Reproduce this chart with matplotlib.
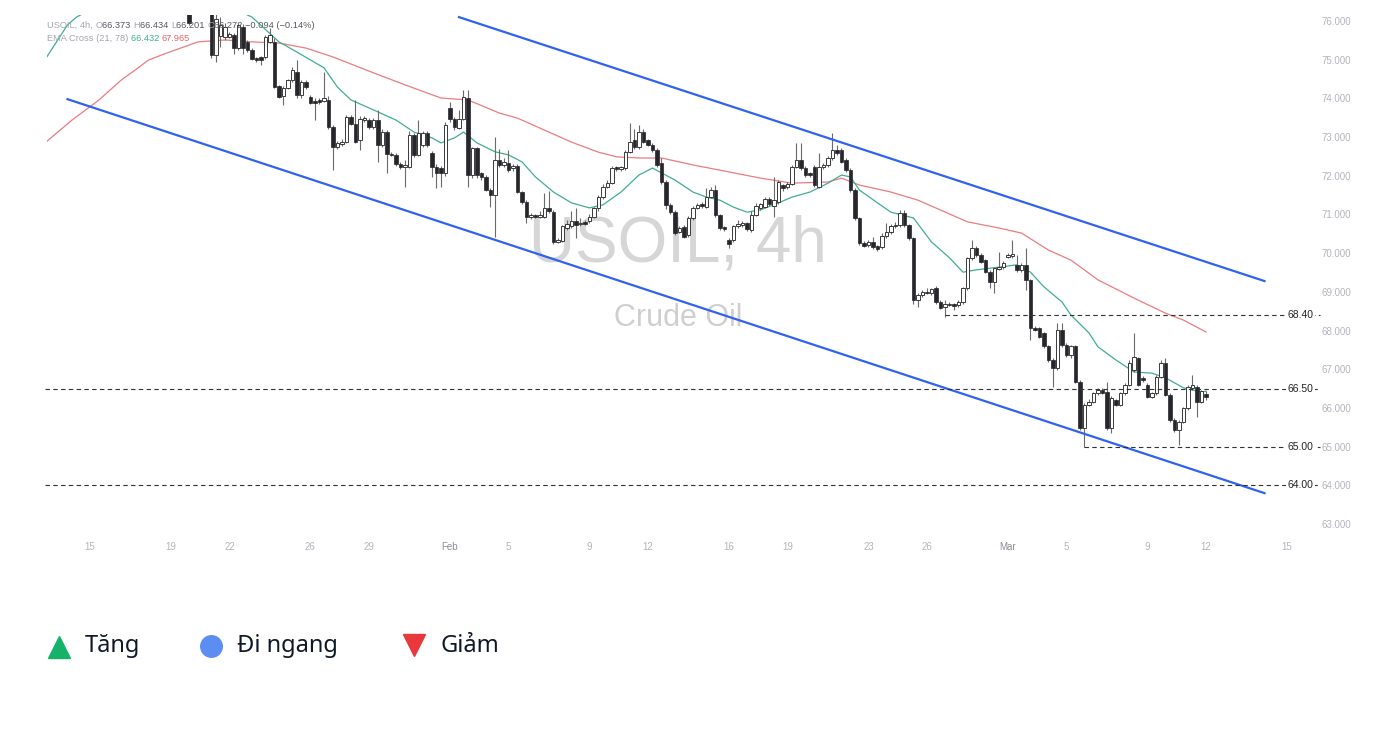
import matplotlib
matplotlib.use("Agg")
import matplotlib.pyplot as plt
import numpy as np

plt.rcParams["font.family"] = ["Liberation Sans", "DejaVu Sans"]

W, H = 1397, 737

# ---------------- data (USOIL 4h candles, bar index 22..248) ----------------
opens = [
    76.40, 76.30, 76.60, 76.50, 76.40, 76.25, 75.12, 75.60, 75.59, 75.59,
    75.63, 75.29, 75.85, 75.46, 75.25, 75.05, 75.07, 75.07, 75.46, 75.46,
    74.31, 74.06, 74.28, 74.47, 74.69, 74.08, 74.43, 74.04, 73.93, 73.97,
    73.94, 73.97, 73.26, 72.75, 72.82, 72.88, 73.52, 73.35, 72.92, 73.44,
    73.44, 73.27, 73.44, 72.79, 73.13, 72.57, 72.55, 72.30, 72.23, 72.23,
    73.05, 72.54, 72.80, 73.10, 72.60, 72.24, 72.20, 72.06, 73.74, 73.48,
    73.23, 73.48, 74.00, 72.02, 72.71, 72.06, 71.98, 71.63, 71.50, 72.41,
    72.28, 72.32, 72.19, 72.25, 71.59, 71.33, 70.94, 70.98, 70.94, 70.94,
    71.16, 71.07, 70.30, 70.32, 70.64, 70.69, 70.82, 70.75, 70.80, 70.82,
    70.94, 71.16, 71.45, 71.72, 71.82, 72.22, 72.17, 72.20, 72.62, 72.92,
    72.75, 73.14, 72.92, 72.80, 72.67, 72.32, 71.85, 71.25, 71.07, 70.56,
    70.67, 70.47, 70.90, 71.18, 71.27, 71.20, 71.46, 71.63, 70.98, 70.67,
    70.34, 70.34, 70.69, 70.73, 70.77, 70.60, 70.99, 71.18, 71.20, 71.39,
    71.22, 71.33, 71.76, 71.70, 71.80, 72.23, 72.41, 72.19, 72.06, 72.23,
    71.72, 72.23, 72.28, 72.45, 72.67, 72.67, 72.41, 72.15, 71.63, 70.90,
    70.27, 70.20, 70.30, 70.18, 70.15, 70.44, 70.56, 70.69, 70.73, 71.03,
    70.73, 70.38, 68.79, 68.92, 69.00, 68.96, 69.10, 68.75, 68.62, 68.70,
    68.69, 68.66, 68.75, 69.09, 69.87, 70.13, 69.95, 69.82, 69.52, 69.26,
    69.60, 69.65, 69.91, 69.93, 69.70, 69.57, 69.70, 69.30, 68.06, 68.06,
    67.93, 67.59, 67.24, 67.03, 68.02, 67.63, 67.37, 67.59, 66.68, 65.48,
    66.08, 66.16, 66.38, 66.47, 66.42, 65.48, 66.20, 66.08, 66.38, 66.60,
    66.98, 67.28, 66.77, 66.60, 66.29, 66.38, 66.81, 67.16, 66.34, 65.69,
    65.43, 65.65, 65.99, 66.51, 66.55, 66.16, 66.373,
]
highs = [
    76.60, 76.70, 76.90, 76.80, 76.60, 76.40, 76.30, 76.10, 75.95, 75.72,
    75.70, 75.95, 75.92, 75.52, 75.30, 75.08, 75.10, 75.65, 75.81, 75.55,
    74.35, 74.32, 74.50, 74.80, 74.99, 74.48, 74.47, 74.10, 74.00, 74.02,
    74.69, 74.05, 73.30, 72.90, 72.95, 73.58, 73.58, 73.95, 73.55, 73.55,
    73.50, 73.50, 73.70, 73.20, 73.18, 72.62, 72.58, 72.35, 72.40, 73.15,
    73.10, 73.44, 73.15, 73.15, 72.65, 72.30, 72.25, 73.40, 73.90, 73.52,
    73.70, 74.22, 74.22, 72.75, 72.75, 72.10, 72.02, 71.68, 73.01, 72.68,
    72.45, 72.67, 72.30, 72.30, 71.62, 71.38, 71.05, 71.02, 71.10, 71.55,
    71.60, 71.12, 70.38, 70.72, 70.85, 71.10, 71.16, 70.90, 70.85, 71.00,
    71.20, 71.50, 71.78, 71.88, 72.25, 72.26, 72.26, 72.66, 73.36, 73.20,
    73.30, 73.20, 72.96, 72.84, 72.72, 72.45, 71.90, 71.30, 71.12, 70.70,
    70.72, 70.95, 71.22, 71.30, 71.32, 71.68, 71.72, 71.76, 71.02, 70.70,
    70.38, 70.73, 70.86, 70.82, 70.80, 71.10, 71.30, 71.30, 71.45, 71.45,
    71.98, 71.90, 71.80, 71.84, 72.28, 72.84, 72.84, 72.25, 72.10, 72.28,
    72.58, 72.32, 72.52, 73.10, 72.80, 72.72, 72.45, 72.20, 71.68, 70.94,
    70.32, 70.34, 70.42, 70.22, 70.51, 70.77, 70.75, 70.80, 71.12, 71.12,
    70.76, 70.42, 68.97, 69.05, 69.09, 69.10, 69.14, 68.78, 68.78, 68.74,
    68.72, 68.80, 69.12, 69.90, 70.34, 70.18, 70.00, 69.86, 69.56, 69.65,
    70.04, 69.80, 70.00, 70.34, 69.95, 69.74, 70.13, 69.34, 68.12, 68.10,
    67.97, 67.63, 67.28, 68.20, 68.20, 67.68, 67.63, 67.63, 66.72, 66.12,
    66.22, 66.42, 66.52, 66.52, 66.68, 66.30, 66.24, 66.42, 66.64, 67.24,
    67.93, 67.32, 66.82, 66.65, 66.42, 66.85, 67.24, 67.30, 66.38, 65.73,
    65.70, 66.03, 66.59, 66.85, 66.60, 66.47, 66.434,
]
lows = [
    75.90, 76.25, 76.40, 76.30, 76.20, 75.05, 74.94, 75.33, 75.50, 75.55,
    75.16, 75.25, 75.16, 75.20, 75.00, 74.95, 74.86, 75.02, 75.42, 74.28,
    74.00, 73.82, 74.24, 74.42, 74.00, 74.02, 74.25, 73.85, 73.44, 73.86,
    73.90, 73.22, 72.16, 72.70, 72.78, 72.85, 73.30, 72.85, 72.66, 73.40,
    73.20, 73.22, 72.36, 72.75, 72.06, 72.50, 72.25, 72.18, 71.71, 72.20,
    72.48, 72.50, 72.75, 72.75, 71.98, 71.68, 71.72, 72.00, 73.40, 73.18,
    73.20, 73.45, 71.72, 71.95, 71.95, 71.90, 71.60, 71.20, 70.43, 72.22,
    72.22, 72.10, 72.12, 71.55, 71.28, 70.78, 70.88, 70.90, 70.90, 70.90,
    71.05, 70.25, 70.26, 70.28, 70.60, 70.65, 70.38, 70.70, 70.72, 70.78,
    70.90, 71.10, 71.40, 71.68, 71.78, 72.12, 72.12, 72.15, 72.58, 72.70,
    72.70, 72.84, 72.76, 72.62, 72.24, 71.80, 71.15, 71.02, 70.47, 70.52,
    70.38, 70.42, 70.86, 71.14, 71.18, 71.16, 71.42, 70.94, 70.60, 70.58,
    70.13, 70.30, 70.65, 70.68, 70.58, 70.56, 70.95, 71.12, 71.16, 71.22,
    70.94, 71.28, 71.62, 71.66, 71.76, 72.20, 72.15, 71.98, 71.98, 71.72,
    71.68, 72.18, 72.24, 72.42, 72.55, 72.32, 72.10, 71.58, 70.86, 70.22,
    70.15, 70.16, 70.12, 70.05, 70.10, 70.40, 70.50, 70.64, 70.68, 70.68,
    70.35, 68.70, 68.62, 68.88, 68.94, 68.92, 68.70, 68.55, 68.36, 68.64,
    68.53, 68.62, 68.70, 69.05, 69.82, 69.90, 69.74, 69.48, 69.09, 68.96,
    69.56, 69.60, 69.88, 69.88, 69.52, 69.52, 69.05, 67.75, 67.98, 67.80,
    67.55, 67.20, 66.55, 66.98, 67.58, 67.33, 67.30, 66.64, 65.44, 65.00,
    66.04, 66.12, 66.34, 66.36, 65.44, 65.35, 66.04, 66.04, 66.34, 66.56,
    66.94, 66.56, 66.68, 66.25, 66.25, 66.34, 66.77, 66.30, 65.65, 65.39,
    65.04, 65.61, 65.95, 66.47, 65.78, 66.12, 66.201,
]
closes = [
    75.95, 76.60, 76.50, 76.40, 76.30, 75.12, 76.05, 75.90, 75.85, 75.66,
    75.29, 75.89, 75.30, 75.25, 75.03, 74.99, 74.99, 75.59, 75.63, 74.30,
    74.04, 74.28, 74.47, 74.73, 74.08, 74.43, 74.30, 73.88, 73.90, 73.91,
    74.00, 73.26, 72.75, 72.84, 72.88, 73.52, 73.35, 72.88, 73.48, 73.50,
    73.27, 73.44, 72.79, 73.13, 72.57, 72.53, 72.30, 72.23, 72.25, 73.05,
    72.53, 73.10, 73.10, 72.80, 72.24, 72.06, 72.06, 73.31, 73.48, 73.27,
    73.48, 74.04, 72.02, 72.71, 72.02, 71.98, 71.63, 71.50, 72.41, 72.28,
    72.35, 72.15, 72.25, 71.59, 71.33, 70.94, 70.98, 70.94, 70.98, 71.16,
    71.10, 70.30, 70.34, 70.69, 70.75, 70.82, 70.73, 70.78, 70.76, 70.94,
    71.16, 71.45, 71.72, 71.82, 72.20, 72.17, 72.22, 72.62, 72.88, 72.75,
    73.14, 72.88, 72.80, 72.67, 72.28, 71.85, 71.25, 71.07, 70.51, 70.64,
    70.43, 70.90, 71.18, 71.25, 71.22, 71.46, 71.63, 70.98, 70.64, 70.62,
    70.25, 70.69, 70.75, 70.77, 70.62, 70.99, 71.22, 71.26, 71.39, 71.26,
    71.37, 71.85, 71.68, 71.80, 72.23, 72.40, 72.19, 72.02, 72.02, 71.76,
    72.23, 72.28, 72.45, 72.67, 72.60, 72.36, 72.15, 71.63, 70.90, 70.26,
    70.19, 70.30, 70.17, 70.12, 70.44, 70.56, 70.69, 70.73, 71.03, 70.73,
    70.38, 68.79, 68.92, 69.00, 68.97, 69.07, 68.75, 68.58, 68.70, 68.67,
    68.63, 68.75, 69.09, 69.87, 70.13, 69.95, 69.78, 69.52, 69.26, 69.61,
    69.65, 69.74, 69.95, 69.95, 69.57, 69.70, 69.30, 68.06, 68.02, 67.84,
    67.59, 67.24, 67.03, 68.02, 67.63, 67.37, 67.59, 66.68, 65.48, 66.08,
    66.16, 66.38, 66.47, 66.40, 65.48, 66.25, 66.08, 66.38, 66.60, 67.16,
    67.33, 66.60, 66.72, 66.29, 66.38, 66.81, 67.16, 66.34, 65.69, 65.43,
    65.65, 65.99, 66.55, 66.60, 66.16, 66.43, 66.272,
]
first_bar = 22

# EMA 21 / EMA 78 (bar index, price)
ema21_x = [-10, -5, -3, 5, 15, 25, 36, 42, 44, 52, 55, 58, 64, 68, 72, 76, 78, 81, 83, 86,
           90, 93, 96, 99, 103, 107, 111, 114, 118, 122, 125, 130, 134, 137, 140, 143, 146,
           149, 153, 156, 160, 164, 167, 169, 171, 175, 178, 183, 187, 191, 194, 197, 202,
           206, 209, 212, 216, 218, 222, 224, 228, 232, 236, 239, 243, 247, 248]
ema21_y = [75.00, 75.90, 76.10, 76.60, 76.90, 76.70, 76.10, 75.46, 75.33, 74.79, 74.29, 73.96,
           73.65, 73.44, 73.13, 72.98, 72.85, 72.98, 73.13, 72.85, 72.62, 72.54, 72.36, 71.97,
           71.58, 71.30, 71.17, 71.25, 71.58, 72.02, 72.20, 71.89, 71.58, 71.45, 71.37, 71.19,
           71.06, 71.12, 71.30, 71.45, 71.58, 71.81, 72.02, 71.97, 71.63, 71.30, 71.06, 70.91,
           70.29, 69.88, 69.51, 69.57, 69.64, 69.70, 69.51, 69.13, 68.74, 68.40, 67.94, 67.58,
           67.24, 66.93, 66.90, 66.78, 66.52, 66.41, 66.432]
ema78_x = [-10, -4, 2, 7, 10, 13, 17, 24, 30, 36, 42, 48, 54, 63, 70, 78, 84, 91, 95, 101,
           107, 113, 117, 122, 127, 134, 142, 149, 156, 164, 167, 171, 178, 184, 195, 202,
           207, 213, 218, 224, 232, 239, 243, 248]
ema78_y = [72.85, 73.44, 73.96, 74.48, 74.73, 74.99, 75.17, 75.46, 75.51, 75.46, 75.43, 75.30,
           75.07, 74.66, 74.35, 74.01, 73.96, 73.62, 73.49, 73.18, 72.87, 72.61, 72.49, 72.46,
           72.46, 72.28, 72.10, 71.94, 71.81, 71.84, 71.94, 71.76, 71.58, 71.37, 70.81, 70.65,
           70.52, 70.08, 69.82, 69.31, 68.84, 68.45, 68.27, 67.965]

# trend channel
upper_x, upper_y = [82, 261], [76.10, 69.28]
lower_x, lower_y = [-5, 261], [73.98, 63.80]

# horizontal levels
level_values = [68.40, 66.50, 65.00, 64.00]
level_start = [190, -10, 221, -10]

date_ticks = [0, 18, 31, 49, 62, 80, 93, 111, 124, 142, 155, 173, 186, 204, 217, 235, 248, 266]
date_labels = ["15", "19", "22", "26", "29", "Feb", "5", "9", "12", "16", "19", "23", "26",
               "Mar", "5", "9", "12", "15"]
price_ticks = [63, 64, 65, 66, 67, 68, 69, 70, 71, 72, 73, 74, 75, 76]

legend_labels = ["Tăng", "Đi ngang", "Giảm"]

# ---------------- figure ----------------
fig = plt.figure(figsize=(W / 100, H / 100), dpi=100)
fig.patch.set_facecolor("white")
ax = fig.add_axes([47 / W, (H - 535) / H, (1290 - 47) / W, (535 - 15) / H])
ax.set_xlim(-9.556, 266.67)
ax.set_ylim(62.718, 76.155)
for s in ax.spines.values():
    s.set_visible(False)

# watermark
ax.text(0.5076, 0.5577, "USOIL, 4h", transform=ax.transAxes, ha="center", va="center",
        fontsize=46, color="#d6d6d6", zorder=0)
ax.text(0.5076, 0.417, "Crude Oil", transform=ax.transAxes, ha="center", va="center",
        fontsize=22, color="#cfcfcf", zorder=0)

# candles
o = np.array(opens)
hi = np.array(highs)
lo = np.array(lows)
c = np.array(closes)
x = np.arange(first_bar, first_bar + len(o))
up = c >= o
ax.vlines(x, lo, hi, color="#6a6a6a", lw=0.8, zorder=3)
body = c - o
body = np.where(np.abs(body) < 0.04, np.where(body >= 0, 0.04, -0.04), body)
ax.bar(x[up], body[up], bottom=o[up], width=0.72, color="white", edgecolor="#3a3a3a",
       lw=0.7, zorder=4)
ax.bar(x[~up], body[~up], bottom=o[~up], width=0.72, color="#26262b", edgecolor="#26262b",
       lw=0.5, zorder=4)

# EMAs
ax.plot(ema78_x, ema78_y, color="#ee7b7f", lw=0.9, zorder=2)
ax.plot(ema21_x, ema21_y, color="#3fae92", lw=0.9, zorder=2)

# channel
ax.plot(upper_x, upper_y, color="#2f62f0", lw=1.6, zorder=5)
ax.plot(lower_x, lower_y, color="#2f62f0", lw=1.6, zorder=5)

# levels
for v, s0 in zip(level_values, level_start):
    ax.plot([s0, 273.3], [v, v], ls=(0, (4, 3)), color="#333333", lw=0.8, zorder=5,
            clip_on=False)
    ax.text(268.9, v, f"{v:.2f}", ha="center", va="center", fontsize=7.5, color="#222222",
            zorder=6, clip_on=False,
            bbox=dict(boxstyle="square,pad=0.15", fc="white", ec="none"))

# axes ticks
ax.yaxis.tick_right()
ax.set_yticks(price_ticks, [f"{v:.3f}" for v in price_ticks])
ax.tick_params(axis="y", length=0, pad=23, labelsize=7, labelcolor="#b2b5be")
ax.set_xticks(date_ticks, date_labels)
ax.tick_params(axis="x", length=0, pad=5, labelsize=7, labelcolor="#b2b5be")
for lab in ax.get_xticklabels():
    if lab.get_text() in ("Feb", "Mar"):
        lab.set_color("#8a8d96")

# top-left info lines
light, dark = "#a4a7b0", "#55585f"
info_size = 6.7
t = fig.text(47 / W, 1 - 28 / H, "USOIL, 4h, ", fontsize=info_size, color=light, zorder=10)
for s, col in [("O", light), ("66.373 ", dark), ("H", light), ("66.434 ", dark),
               ("L", light), ("66.201 ", dark), ("C", light), ("66.272 ", dark),
               ("\u22120.094 (\u22120.14%)", dark)]:
    t = ax.annotate(s, xy=(1, 0), xycoords=t, ha="left", va="bottom", fontsize=info_size,
                    color=col, zorder=10, annotation_clip=False)
t = fig.text(47 / W, 1 - 41 / H, "EMA Cross (21, 78) ", fontsize=info_size, color=light,
             zorder=10)
for s, col in [("66.432 ", "#3fae92"), ("67.965", "#e5666b")]:
    t = ax.annotate(s, xy=(1, 0), xycoords=t, ha="left", va="bottom", fontsize=info_size,
                    color=col, zorder=10, annotation_clip=False)

# bottom legend
lax = fig.add_axes([0, 0, 1, 1])
lax.set_xlim(0, W)
lax.set_ylim(H, 0)
lax.axis("off")
lax.patch.set_alpha(0)
lax.plot(58.5, 647, marker="^", ms=16.5, color="#17b26a", ls="none")
lax.plot(211, 646, marker="o", ms=15.5, color="#5b8ef0", ls="none")
lax.plot(413.5, 645, marker="v", ms=16.5, color="#e8383b", ls="none")
for xx, lab in zip([85, 237, 440], legend_labels):
    lax.text(xx, 646, lab, ha="left", va="center", fontsize=17, color="#101828",
             family=["Noto Sans", "DejaVu Sans"])

fig.savefig("out.png", dpi=100, facecolor="white")
